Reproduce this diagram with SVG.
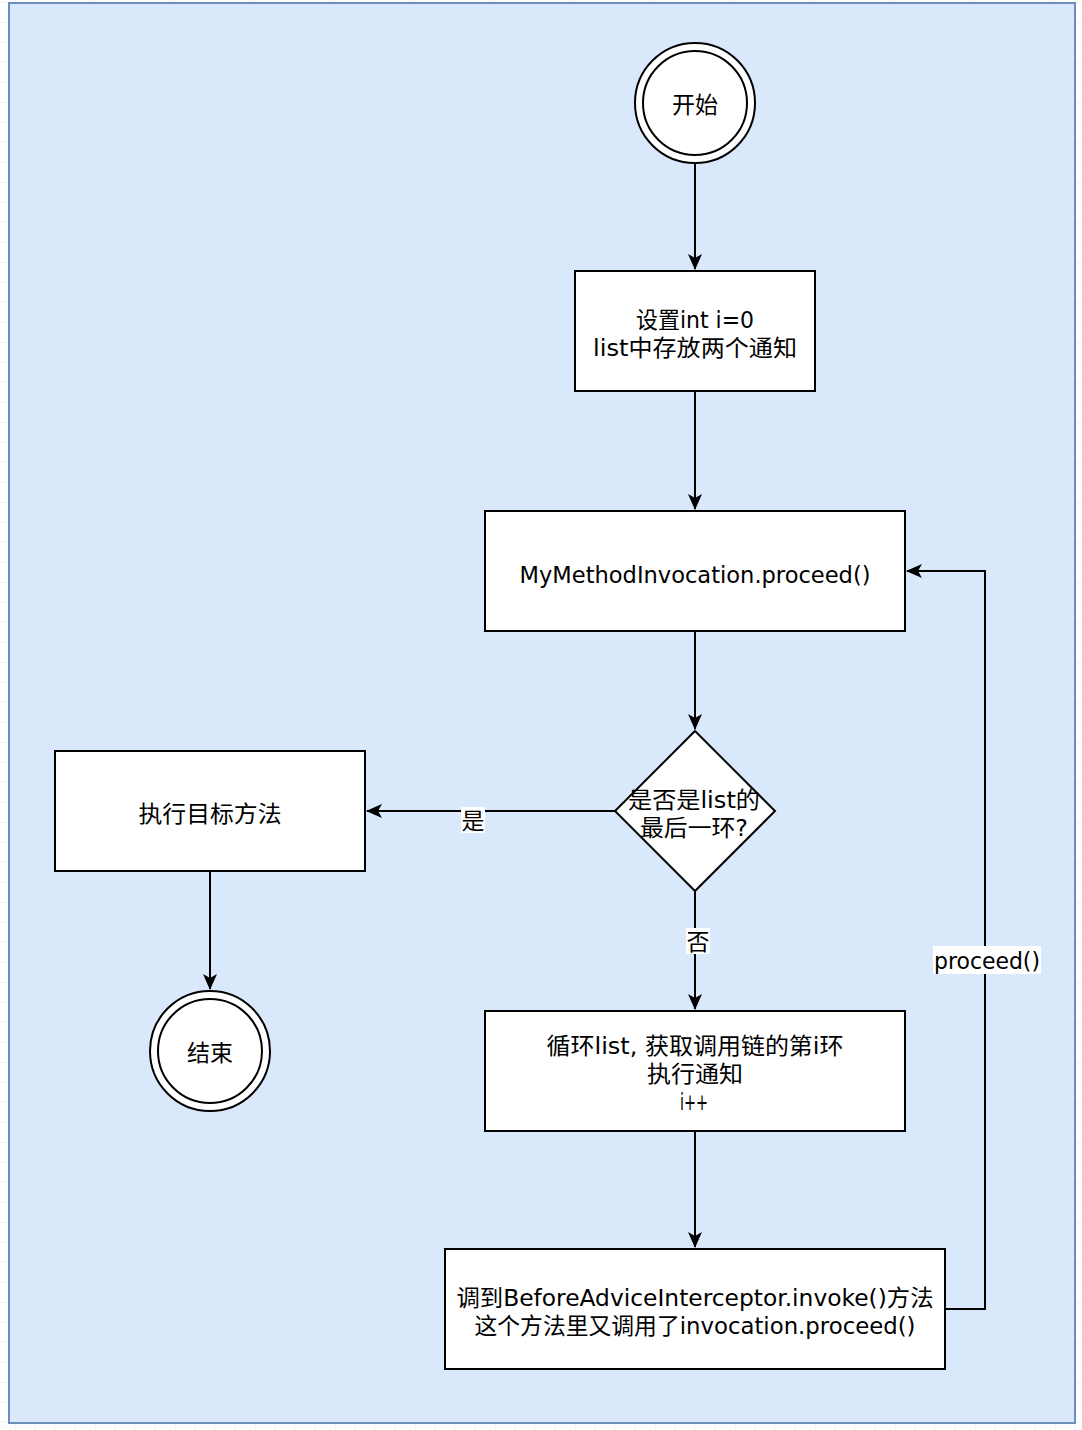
<svg xmlns="http://www.w3.org/2000/svg" width="1082" height="1430" viewBox="0 0 1082 1430">
<defs>
<pattern id="grid" x="15" y="22" width="80" height="80" patternUnits="userSpaceOnUse">
<path d="M0,20H80M0,40H80M0,60H80M20,0V80M40,0V80M60,0V80" stroke="#f2f2f2" stroke-width="1" fill="none"/>
<path d="M0,0H80M0,0V80" stroke="#e2e2e2" stroke-width="1" fill="none"/>
</pattern>
<marker id="arr" viewBox="0 0 16 14" refX="15" refY="7" markerWidth="16" markerHeight="14" markerUnits="userSpaceOnUse" orient="auto">
<path d="M0,0 L16,7 L0,14 L4,7 z" fill="#000"/>
</marker>
<style>
.n{fill:#fff;stroke:#000;stroke-width:2}
.t{font-family:"DejaVu Sans","Noto Sans CJK SC",sans-serif;font-size:23px;fill:#000;text-anchor:middle}
.c{fill:none;stroke:#000;stroke-width:2}
.lb{fill:#fff}
</style>
</defs>
<rect width="1082" height="1430" fill="#fff"/>
<rect width="1082" height="1430" fill="url(#grid)"/>
<rect x="9" y="3" width="1066" height="1420" fill="#dae8fc" stroke="#6c8ebf" stroke-width="2"/>

<g id="connectors">
<path class="c" d="M695,163V269" marker-end="url(#arr)"/>
<path class="c" d="M695,391V509" marker-end="url(#arr)"/>
<path class="c" d="M695,631V729" marker-end="url(#arr)"/>
<path class="c" d="M615,811H367" marker-end="url(#arr)"/>
<path class="c" d="M210,871V989" marker-end="url(#arr)"/>
<path class="c" d="M695,891V1009" marker-end="url(#arr)"/>
<path class="c" d="M695,1131V1247" marker-end="url(#arr)"/>
<path class="c" d="M945,1309H985V571H907" marker-end="url(#arr)"/>
<rect class="lb" x="461" y="807" width="24" height="26"/>
<text class="t" x="473" y="829">是</text>
<rect class="lb" x="686" y="928" width="24" height="26"/>
<text class="t" x="698" y="950">否</text>
<rect class="lb" x="933" y="946" width="108" height="28"/>
<text class="t" x="987" y="969" textLength="106" lengthAdjust="spacingAndGlyphs">proceed()</text>
</g>

<g id="start">
<circle class="n" cx="695" cy="103" r="60"/>
<circle class="n" cx="695" cy="103" r="52"/>
<text class="t" x="695" y="113">开始</text>
</g>
<g id="init">
<rect class="n" x="575" y="271" width="240" height="120"/>
<text class="t" x="695" y="328" textLength="118" lengthAdjust="spacingAndGlyphs">设置int i=0</text>
<text class="t" x="695" y="356" textLength="204" lengthAdjust="spacingAndGlyphs">list中存放两个通知</text>
</g>
<g id="proceed">
<rect class="n" x="485" y="511" width="420" height="120"/>
<text class="t" x="695" y="583" textLength="351" lengthAdjust="spacingAndGlyphs">MyMethodInvocation.proceed()</text>
</g>
<g id="decision">
<path class="n" d="M695,731L775,811L695,891L615,811Z"/>
<text class="t" x="694" y="808" textLength="132" lengthAdjust="spacingAndGlyphs">是否是list的</text>
<text class="t" x="694" y="836" textLength="108" lengthAdjust="spacingAndGlyphs">最后一环?</text>
</g>
<g id="target">
<rect class="n" x="55" y="751" width="310" height="120"/>
<text class="t" x="210" y="822" textLength="143" lengthAdjust="spacingAndGlyphs">执行目标方法</text>
</g>
<g id="end">
<circle class="n" cx="210" cy="1051" r="60"/>
<circle class="n" cx="210" cy="1051" r="52"/>
<text class="t" x="210" y="1061">结束</text>
</g>
<g id="loop">
<rect class="n" x="485" y="1011" width="420" height="120"/>
<text class="t" x="695" y="1054" textLength="297" lengthAdjust="spacingAndGlyphs">循环list, 获取调用链的第i环</text>
<text class="t" x="695" y="1082" textLength="96" lengthAdjust="spacingAndGlyphs">执行通知</text>
<text class="t" x="694" y="1110" textLength="28" lengthAdjust="spacingAndGlyphs">i++</text>
</g>
<g id="invoke">
<rect class="n" x="445" y="1249" width="500" height="120"/>
<text class="t" x="695" y="1306" textLength="477" lengthAdjust="spacingAndGlyphs">调到BeforeAdviceInterceptor.invoke()方法</text>
<text class="t" x="695" y="1334" textLength="441" lengthAdjust="spacingAndGlyphs">这个方法里又调用了invocation.proceed()</text>
</g>
</svg>
